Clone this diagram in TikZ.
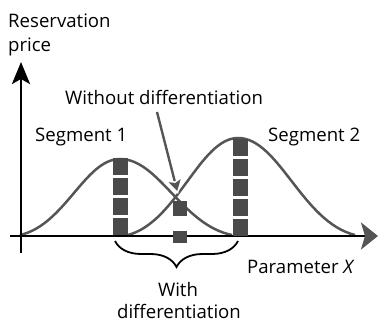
\documentclass[tikz,border=0pt]{standalone}
\usepackage{fontspec}
\setmainfont{Open Sans}
\usetikzlibrary{arrows.meta,decorations.pathreplacing}
\definecolor{cg}{HTML}{555555}
\definecolor{sq}{HTML}{4A4A4A}
\begin{document}
\begin{tikzpicture}[x=1pt,y=-1pt,
 lbl/.style={font=\fontsize{18.6}{22}\selectfont, inner sep=0pt, anchor=base west},
 curve/.style={draw=cg, line width=2.5pt},
 axis/.style={draw=black, line width=2.8pt},
 blk/.style={fill=sq, draw=none, minimum width=15.5pt, minimum height=16.5pt, inner sep=0pt}]
\useasboundingbox (0,0) rectangle (378,326);
% curves
\draw[curve] (20,235) .. controls (65,225) and (85,159) .. (120,159)
  .. controls (159,159) and (182,225) .. (232,235);
\draw[curve] (128,235) .. controls (177,222) and (200,138) .. (238,138)
  .. controls (279,138) and (302,222) .. (355,235);
% axes
\coordinate (yb) at (21,253);
\coordinate (yt) at (21,62);
\coordinate (xl) at (10,236);
\coordinate (xr) at (378,236);
\draw[axis, -{Stealth[length=22pt,width=18pt,inset=5pt]}] (yb) -- (yt);
\draw[axis, -{Stealth[length=17pt,width=27pt,inset=4pt,color=cg]}] (xl) -- (xr);
% squares column 1
\node[blk] (a1) at (120.5,166.5) {};
\node[blk] (a2) at (120.5,186.5) {};
\node[blk] (a3) at (120.5,206.5) {};
\node[blk] (a4) at (120.5,226.5) {};
% squares column 2
\node[blk] (b1) at (240.5,147.5) {};
\node[blk] (b2) at (240.5,167.5) {};
\node[blk] (b3) at (240.5,187.5) {};
\node[blk] (b4) at (240.5,207.5) {};
\node[blk] (b5) at (240.5,227.5) {};
% middle squares
\node[blk, minimum width=14.5pt, minimum height=15pt] (m1) at (180,208.5) {};
\node[blk, minimum width=14.5pt, minimum height=12pt] (m2) at (180,237) {};
% labels
\node[lbl] (rp1) at (8,28) {Reservation};
\node[lbl] (rp2) at (8,52) {price};
\node[lbl] (wo) at (65,105) {Without differentiation};
\node[lbl] (s1) at (35,142) {Segment 1};
\node[lbl] (s2) at (268,142) {Segment 2};
\node[lbl] (px) at (247,273) {Parameter \textit{X}};
\node[lbl, anchor=base] (w1) at (178,296) {With};
\node[lbl, anchor=base] (w2) at (179,318) {differentiation};
% arrow
\coordinate (as) at (157,112);
\coordinate (at) at (178,194);
\draw[draw=cg, line width=2.4pt, -{Stealth[length=17pt,width=20pt,inset=4pt,fill=cg,color=white,line width=1.5pt]}] (as) -- (at);
% brace
\coordinate (bl) at (115,241);
\coordinate (br) at (238,241);
\draw[line width=1.8pt, decorate, decoration={brace, mirror, amplitude=26pt}] (bl) -- (br);
\end{tikzpicture}
\end{document}
